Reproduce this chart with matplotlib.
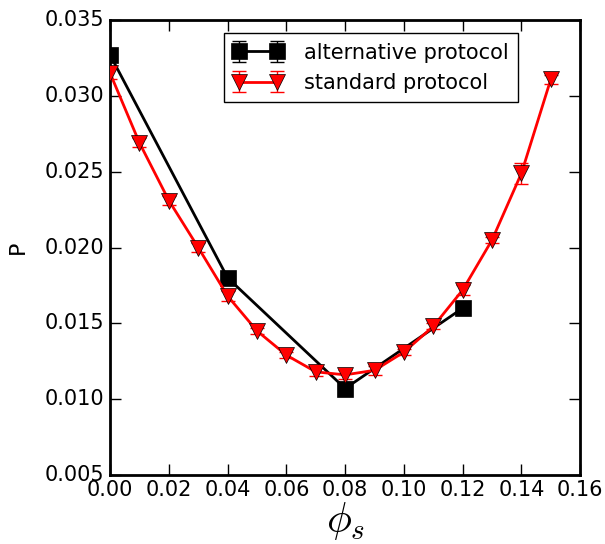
import numpy as np
import matplotlib
matplotlib.use("Agg")
import matplotlib.pyplot as plt

plt.style.use("classic")

# standard protocol
phi_std = [0.00, 0.01, 0.02, 0.03, 0.04, 0.05, 0.06, 0.07, 0.08, 0.09,
           0.10, 0.11, 0.12, 0.13, 0.14, 0.15]
p_std = [0.0315, 0.0269, 0.0231, 0.0200, 0.0168, 0.0145, 0.0129, 0.0118,
         0.0116, 0.0119, 0.0131, 0.0148, 0.0172, 0.0205, 0.0249, 0.0311]
err_std = [0.0004, 0.0003, 0.0003, 0.0003, 0.0003, 0.0002, 0.0002, 0.0003,
           0.0003, 0.0003, 0.0002, 0.0002, 0.0003, 0.0002, 0.0007, 0.0003]

# alternative protocol
phi_alt = [0.00, 0.04, 0.08, 0.12]
p_alt = [0.0327, 0.0180, 0.0107, 0.0160]
err_alt = [0.0003, 0.0003, 0.0004, 0.0004]

fig = plt.figure(figsize=(6.05, 5.44), dpi=100, facecolor="white")
ax = fig.add_axes([0.182, 0.127, 0.777, 0.836])

ax.errorbar(phi_alt, p_alt, yerr=err_alt, color="black", marker="s",
            markersize=12, linewidth=2, elinewidth=1, capsize=5,
            capthick=1, label="alternative protocol", zorder=2)
ax.errorbar(phi_std, p_std, yerr=err_std, color="red", ecolor="red",
            marker="v", markersize=12, markeredgecolor="black",
            markerfacecolor="red", linewidth=2, elinewidth=1, capsize=5,
            capthick=1, label="standard protocol", zorder=3)

ax.set_xlim(0, 0.16)
ax.set_ylim(0.005, 0.035)
ax.set_xticks(np.arange(0, 0.161, 0.02))
ax.set_yticks(np.arange(0.005, 0.0351, 0.005))
ax.xaxis.set_major_formatter(matplotlib.ticker.FormatStrFormatter("%.2f"))
ax.yaxis.set_major_formatter(matplotlib.ticker.FormatStrFormatter("%.3f"))
ax.tick_params(labelsize=15, length=8, width=1)
for s in ax.spines.values():
    s.set_linewidth(2)

ax.set_xlabel(r"$\phi_s$", fontsize=30, labelpad=0)
ax.set_ylabel("P", fontsize=16, labelpad=12)

ax.legend(loc="upper right", bbox_to_anchor=(0.868, 0.971), borderaxespad=0,
          fontsize=15, numpoints=2, fancybox=False, handletextpad=1.0,
          handlelength=2.4, borderpad=0.45)

fig.savefig("out.png", dpi=100, facecolor="white")
